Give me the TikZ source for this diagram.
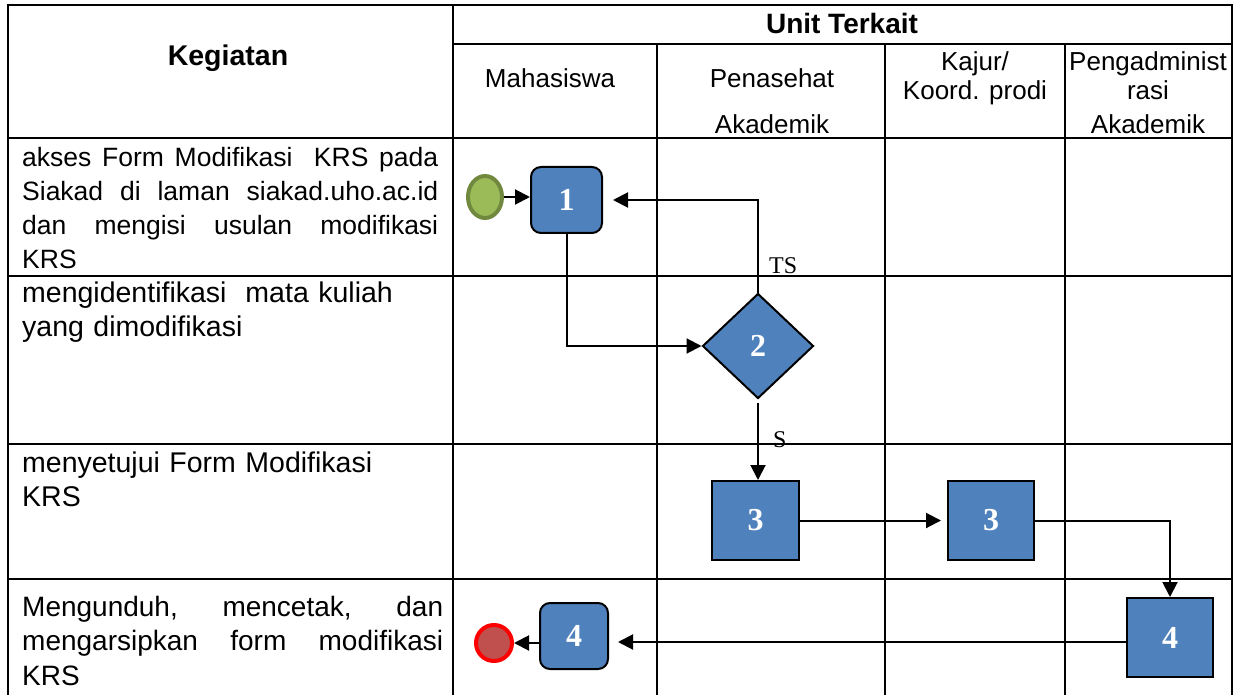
\documentclass[tikz,border=0pt]{standalone}
\usepackage{fontspec}
\setmainfont{Liberation Sans}
\newfontfamily\numfont{Liberation Serif}
\usetikzlibrary{shapes.geometric,arrows.meta}
\definecolor{boxblue}{HTML}{4F81BD}
\definecolor{startfill}{HTML}{9BBB59}
\definecolor{startline}{HTML}{71893F}
\definecolor{endfill}{HTML}{C0504D}
\definecolor{endline}{HTML}{FF0000}
\tikzset{
  grid/.style={line width=2.9pt, line cap=rect},
  proc/.style={draw=black, line width=2pt, fill=boxblue, inner sep=0pt, text=white, font=\numfont\bfseries\fontsize{32}{32}\selectfont},
  rproc/.style={proc, rounded corners=10pt},
  dec/.style={proc, shape=diamond},
  conn/.style={line width=2pt, -{Triangle[length=15pt,width=15pt]}},
  hdr/.style={anchor=base, inner sep=0pt, font=\fontsize{26}{30}\selectfont},
  act/.style={anchor=base west, inner sep=0pt, text width=416pt},
  lbl/.style={anchor=base west, inner sep=0pt, font=\numfont\fontsize{24}{24}\selectfont}
}
\begin{document}
\begin{tikzpicture}[x=1pt,y=-1pt]
\useasboundingbox (0,0) rectangle (1242,695);
% table grid
\draw[grid] (8,5) -- (1232,5);
\draw[grid] (453,44) -- (1232,44);
\draw[grid] (8,138) -- (1232,138);
\draw[grid] (8,276) -- (1232,276);
\draw[grid] (8,444) -- (1232,444);
\draw[grid] (8,579) -- (1232,579);
\draw[grid] (8,5) -- (8,695);
\draw[grid] (453,5) -- (453,695);
\draw[grid] (1232,5) -- (1232,695);
\draw[grid] (657,44) -- (657,695);
\draw[grid] (885,44) -- (885,695);
\draw[grid] (1065,44) -- (1065,695);
% headers
\node[hdr, font=\bfseries\fontsize{28.5}{30}\selectfont] (hk) at (228,66) {Kegiatan};
\node[hdr, font=\bfseries\fontsize{28}{30}\selectfont] (hu) at (842,34) {Unit Terkait};
\node[hdr] (h1) at (550,88) {Mahasiswa};
\node[hdr] (h2a) at (772,88) {Penasehat};
\node[hdr] (h2b) at (772,134) {Akademik};
\node[hdr] (h3a) at (975,71) {Kajur/};
\node[hdr] (h3b) at (975,100) {Koord. prodi};
\node[hdr] (h4a) at (1148,71) {Pengadminist};
\node[hdr] (h4b) at (1148,100) {rasi};
\node[hdr] (h4c) at (1148,134) {Akademik};
% activities
\node[act, align=justify, font=\fontsize{26.5}{34}\selectfont] (a1) at (22,167)
  {akses Form Modifikasi\ \ KRS pada\linebreak Siakad di laman siakad.uho.ac.id\linebreak dan mengisi usulan modifikasi\linebreak KRS};
\node[act, align=left, font=\fontsize{28.5}{34}\selectfont] (a2) at (22,302)
  {mengidentifikasi\ \ mata kuliah\\yang dimodifikasi};
\node[act, align=left, font=\fontsize{28.5}{34}\selectfont] (a3) at (22,472)
  {menyetujui Form Modifikasi\\KRS};
\node[act, text width=421pt, align=justify, font=\fontsize{28}{34.5}\selectfont] (a4) at (22,616)
  {Mengunduh, mencetak, dan\linebreak mengarsipkan form modifikasi\linebreak KRS};
% flow shapes
\node[ellipse, draw=startline, fill=startfill, line width=4pt, minimum width=34pt, minimum height=42pt, inner sep=0pt] (s) at (485,197) {};
\node[rproc, minimum width=71pt, minimum height=66pt] (b1) at (566.5,200) {1};
\node[dec, minimum width=111pt, minimum height=105pt] (d2) at (758,346) {2};
\node[proc, minimum width=87pt, minimum height=79pt] (b3a) at (755.5,520.5) {3};
\node[proc, minimum width=86pt, minimum height=79pt] (b3b) at (991,520.5) {3};
\node[proc, minimum width=86pt, minimum height=79pt] (b4a) at (1170,637.5) {4};
\node[rproc, minimum width=68pt, minimum height=66pt] (b4m) at (574,636) {4};
\node[circle, draw=endline, fill=endfill, line width=4pt, minimum size=36pt, inner sep=0pt] (e) at (494,643) {};
\coordinate (r4) at (1126,642);
% connectors
\draw[conn] (s.east) -- (b1.west |- s.east);
\draw[conn] (b1.south) |- (d2.west);
\draw[conn, shorten >=10pt] (d2.north) |- (b1.east);
\draw[conn, shorten <=3pt] (d2.south) -- (d2.south |- b3a.north);
\draw[conn, shorten >=6pt] (b3a.east) -- (b3b.west);
\draw[conn] (b3b.east) -| (b4a.north);
\draw[conn, shorten >=9pt] (b4a.west |- r4) -- (b4m.east |- r4);
\draw[conn] (b4m.west |- e.east) -- (e.east);
% labels
\node[lbl] (ts) at (769,273) {TS};
\node[lbl] (sl) at (773,447) {S};
\end{tikzpicture}
\end{document}
